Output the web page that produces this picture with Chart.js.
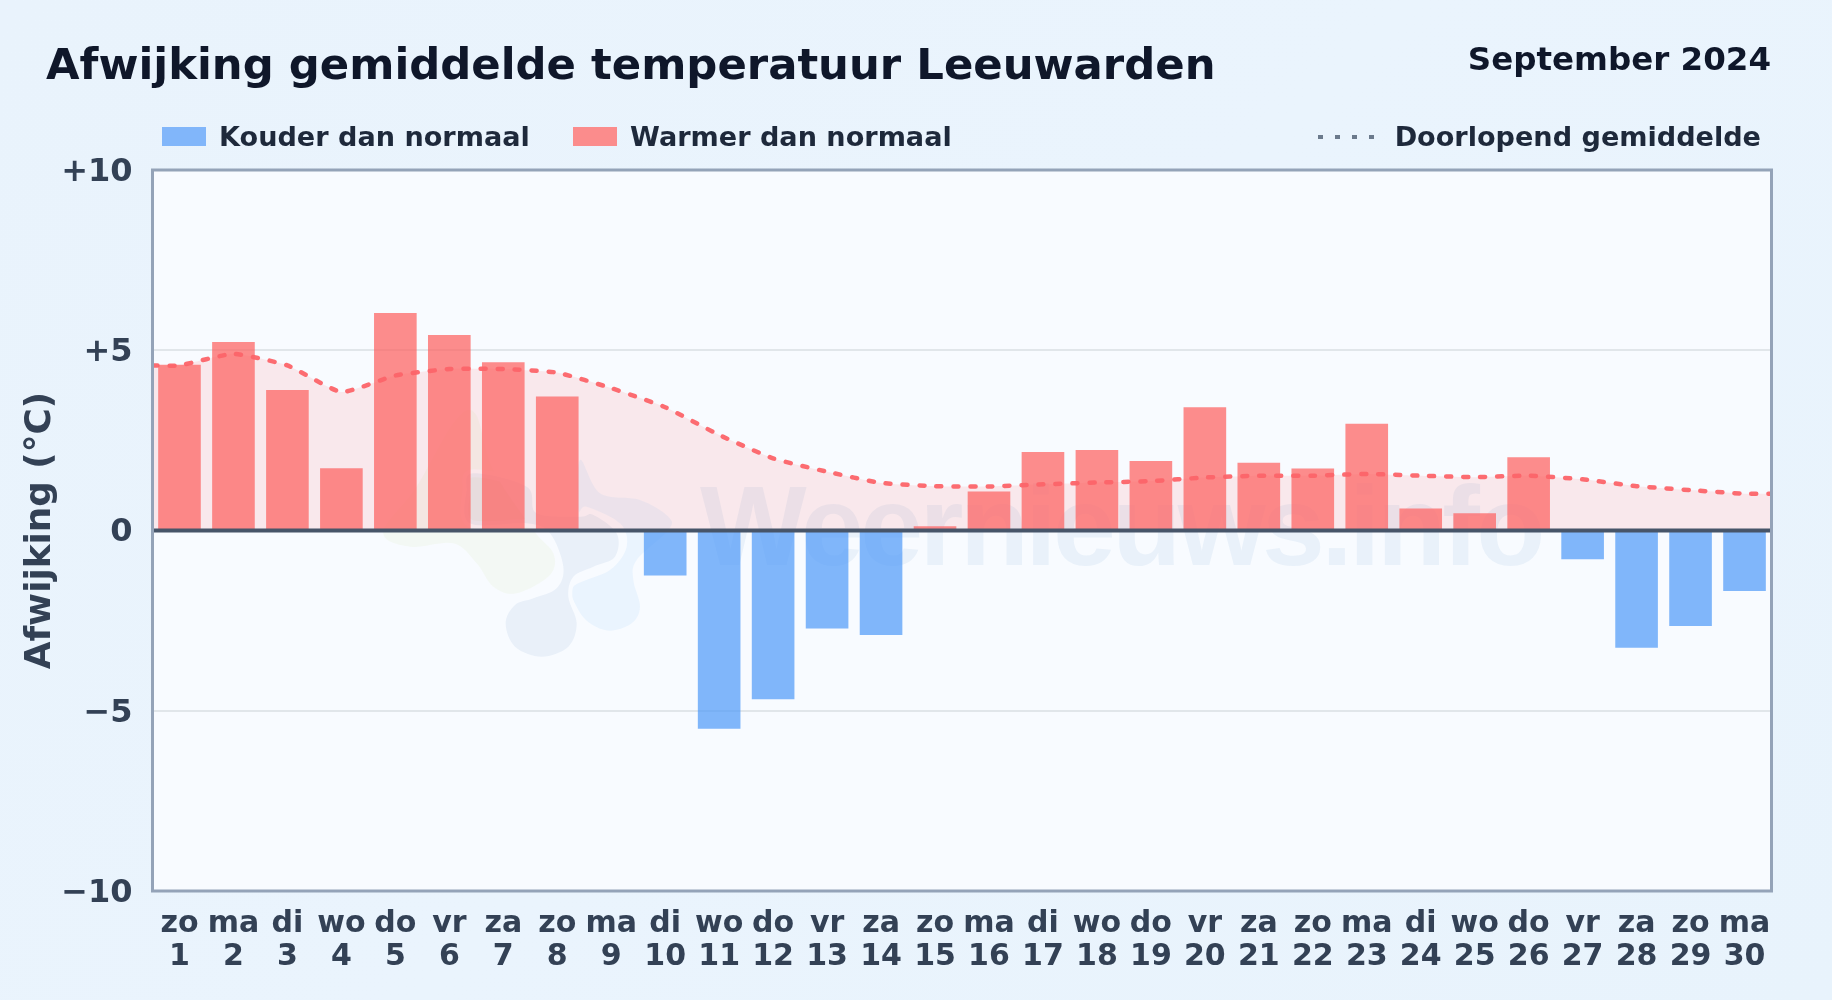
<!DOCTYPE html>
<html lang="nl"><head><meta charset="utf-8">
<script src="https://cdn.jsdelivr.net/npm/chart.js@4/dist/chart.umd.min.js"></script>
<style>
html,body{margin:0;padding:0;width:1832px;height:1000px;overflow:hidden;background:linear-gradient(135deg,#e9f3fc 0%,#eaf4fd 50%,#e8f3fc 100%);font-family:"DejaVu Sans",sans-serif;font-weight:bold}
#wrap{position:relative;width:1832px;height:1000px}
canvas{position:absolute;left:0;top:0}
.t{position:absolute;white-space:nowrap}
#title{left:46px;top:39px;font-size:43.35px;line-height:50px;color:#0f172a}
#date{right:61px;top:41px;font-size:32.5px;line-height:36px;color:#0f172a}
.lg{font-size:27.1px;line-height:32px;top:121px;color:#1e293b}
.sw{position:absolute;top:127px;height:19px;width:44px}
#dots{position:absolute;left:1318px;top:135px;width:56px;height:4px;background:repeating-linear-gradient(90deg,#6b7a8c 0 5px,transparent 5px 17px)}
</style></head><body><div id="wrap">
<canvas id="c" width="1832" height="1000"></canvas>
<div class="t" id="title">Afwijking gemiddelde temperatuur Leeuwarden</div>
<div class="t" id="date">September 2024</div>
<div class="sw" style="left:162px;background:#81b6fa"></div><div class="t lg" style="left:219px">Kouder dan normaal</div>
<div class="sw" style="left:573px;background:#fb8c8c"></div><div class="t lg" style="left:630px">Warmer dan normaal</div>
<div id="dots"></div><div class="t lg" style="right:71px">Doorlopend gemiddelde</div>
</div>
<script>
const weekdays=["zo","ma","di","wo","do","vr","za","zo","ma","di","wo","do","vr","za","zo","ma","di","wo","do","vr","za","zo","ma","di","wo","do","vr","za","zo","ma"];
const days=[1,2,3,4,5,6,7,8,9,10,11,12,13,14,15,16,17,18,19,20,21,22,23,24,25,26,27,28,29,30];
const deviation=[4.6,5.23,3.9,1.73,6.03,5.42,4.67,3.72,0,-1.25,-5.5,-4.68,-2.72,-2.9,0.12,1.08,2.18,2.23,1.93,3.42,1.88,1.72,2.96,0.61,0.48,2.03,-0.8,-3.25,-2.65,-1.68];
const runningX=[0.5,1,2,3,4,5,6,7,8,9,10,11,12,13,14,15,16,17,18,19,20,21,22,23,24,25,26,27,28,29,30,30.5];
const runningMean=[4.58,4.58,4.9,4.58,3.84,4.3,4.48,4.48,4.38,3.95,3.42,2.65,2.0,1.63,1.32,1.23,1.22,1.28,1.33,1.37,1.47,1.52,1.52,1.57,1.52,1.48,1.52,1.42,1.23,1.12,1.02,1.02];
const yTicks=[-10,-5,0,5,10];
const COLD="rgba(77,153,248,0.7)",WARM="rgba(254,93,91,0.7)",LINE="rgba(252,100,105,0.95)",FILL="rgba(255,107,107,0.13)";
const PLOT_BG="#f8fbff";
const logoGreen=[[70,425],[150,470],[280,460],[350,520],[400,590],[470,610],[570,555],[580,490],[520,420],[400,240],[345,70],[280,100],[170,290]];
const logoLight=[[660,210],[720,310],[840,330],[925,380],[925,420],[830,510],[820,570],[840,650],[815,700],[750,722],[690,700],[650,650],[640,590],[750,540],[800,470],[780,400],[680,350],[655,360]];
const logoNavy=[[340,250],[500,290],[530,370],[660,380],[700,375],[770,430],[765,500],[700,530],[640,560],[625,620],[650,700],[625,770],[545,800],[465,770],[437,700],[465,645],[520,625],[590,595],[610,530],[570,430],[500,400],[330,400],[320,300]];
function blob(ctx,pts,fill){
 const P=pts.map(p=>[360+p[0]/3,390+p[1]/3]),n=P.length;
 ctx.beginPath();ctx.moveTo(P[0][0],P[0][1]);
 for(let i=0;i<n;i++){const a=P[(i+n-1)%n],b=P[i],c=P[(i+1)%n],d=P[(i+2)%n];
  ctx.bezierCurveTo(b[0]+(c[0]-a[0])/6,b[1]+(c[1]-a[1])/6,c[0]-(d[0]-b[0])/6,c[1]-(d[1]-b[1])/6,c[0],c[1]);}
 ctx.closePath();ctx.strokeStyle=PLOT_BG;ctx.lineWidth=8;ctx.stroke();ctx.fillStyle=fill;ctx.fill();}
const plotDeco={id:"plotDeco",
 beforeDatasetsDraw(ch){const {ctx,chartArea:a}=ch;ctx.save();ctx.beginPath();ctx.rect(a.left,a.top,a.width,a.height);ctx.clip();
  ctx.fillStyle="rgba(48,113,180,0.07)";ctx.font="bold 113px 'Liberation Sans'";ctx.letterSpacing="-3.6px";ctx.textBaseline="alphabetic";ctx.fillText("Weernieuws.info",700,565);ctx.letterSpacing="0px";
  blob(ctx,logoGreen,"rgba(190,215,110,0.08)");
  blob(ctx,logoLight,"rgba(80,170,240,0.08)");
  blob(ctx,logoNavy,"rgba(48,100,170,0.07)");
  ctx.restore();},
 beforeDraw(ch){const {ctx,chartArea:a}=ch;ctx.save();ctx.fillStyle=PLOT_BG;ctx.fillRect(a.left,a.top,a.width,a.height);ctx.restore();
  const y=ch.scales.y;if(!y._labelsNudged){y.getLabelItems().forEach(it=>{it.textOffset+=2.5;});y._labelsNudged=true;}},
 afterDatasetsDraw(ch){const {ctx,chartArea:a,scales:{y}}=ch;ctx.save();ctx.strokeStyle="#475569";ctx.lineWidth=4;const p=y.getPixelForValue(0);ctx.beginPath();ctx.moveTo(a.left,p);ctx.lineTo(a.right,p);ctx.stroke();
  ctx.strokeStyle="#94a3b8";ctx.lineWidth=3;ctx.strokeRect(a.left,a.top,a.width,a.height);ctx.restore();}
};
new Chart(document.getElementById("c"),{
 data:{labels:days.map((d,i)=>[weekdays[i],String(d)]),datasets:[
  {type:"bar",label:"Afwijking",data:deviation,backgroundColor:deviation.map(v=>v<0?COLD:WARM),borderWidth:0,grouped:false,categoryPercentage:0.79,barPercentage:1,order:2,xAxisID:"x",yAxisID:"y"},
  {type:"line",label:"Doorlopend gemiddelde",data:runningX.map((x,i)=>({x,y:runningMean[i]})),xAxisID:"x2",yAxisID:"y",borderColor:LINE,borderWidth:4.5,borderDash:[5,12],borderCapStyle:"round",pointRadius:0,tension:0.15,fill:{target:{value:0},above:FILL,below:FILL},order:1}
 ]},
 plugins:[plotDeco],
 options:{responsive:false,animation:false,devicePixelRatio:1,
  layout:{padding:{top:170,right:60.5,bottom:0,left:0}},
  plugins:{legend:{display:false},tooltip:{enabled:false}},
  scales:{
   x:{type:"category",offset:true,grid:{display:false},border:{display:false},
      ticks:{color:"#334155",font:{family:"DejaVu Sans",weight:"bold",size:30,lineHeight:1.09},maxRotation:0,minRotation:0,autoSkip:false,padding:9},
      afterFit(s){s.height=109;}},
   x2:{type:"linear",display:false,min:0.5,max:30.5},
   y:{type:"linear",min:-10,max:10,
      afterBuildTicks(s){s.ticks=yTicks.map(v=>({value:v}));},
      grid:{drawTicks:false,lineWidth:2,color:c=>(Math.abs(c.tick?.value)===5?"#e1e6ea":"transparent")},border:{display:false},
      ticks:{color:"#334155",font:{family:"DejaVu Sans",weight:"bold",size:32},padding:20,callback:v=>v>0?"+"+v:(v<0?"\u2212"+Math.abs(v):"0")},
      title:{display:true,text:"Afwijking (\u00b0C)",color:"#334155",font:{family:"DejaVu Sans",weight:"bold",size:35.8},padding:{top:19.5,bottom:0}},
      afterFit(s){s.width=152.5;}}
  }}
});
</script></body></html>
